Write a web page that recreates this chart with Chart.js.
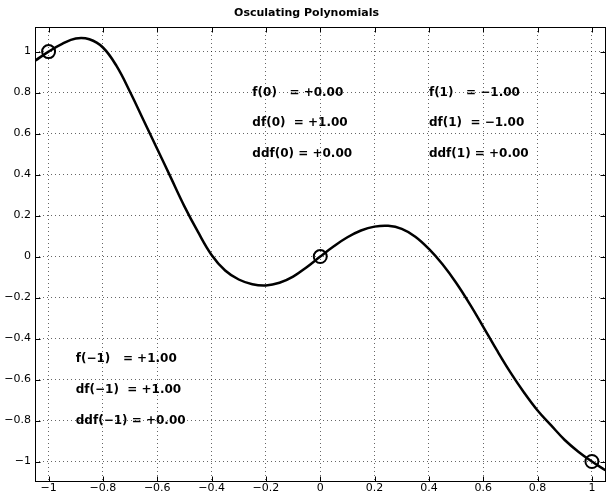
<!DOCTYPE html>
<html>
<head>
    <title>Osculating Polynomials</title>
    <script src="https://cdn.jsdelivr.net/npm/chart.js"></script>
    <style>
        html, body { margin: 0; padding: 0; overflow: hidden; background: #fff; }
        #wrap { width: 614px; height: 500px; }
    </style>
</head>
<body>
    <div id="wrap"><canvas id="polyChart" width="614" height="500"></canvas></div>
<script>
// curve, every 0.05 in x
const xValues = [-1.05, -1.00, -0.95, -0.90, -0.85, -0.80, -0.75, -0.70, -0.65, -0.60,
                 -0.55, -0.50, -0.45, -0.40, -0.35, -0.30, -0.25, -0.20, -0.15, -0.10,
                 -0.05, 0.00, 0.05, 0.10, 0.15, 0.20, 0.25, 0.30, 0.35, 0.40,
                 0.45, 0.50, 0.55, 0.60, 0.65, 0.70, 0.75, 0.80, 0.85, 0.90,
                 0.95, 1.00, 1.05];
const yValues = [0.955, 1.000, 1.038, 1.064, 1.060, 1.020, 0.930, 0.803, 0.664, 0.525,
                 0.385, 0.245, 0.120, 0.008, -0.068, -0.112, -0.135, -0.141, -0.128, -0.098,
                 -0.052, 0.000, 0.050, 0.094, 0.127, 0.146, 0.150, 0.135, 0.097, 0.037,
                 -0.038, -0.128, -0.231, -0.343, -0.457, -0.565, -0.663, -0.751, -0.824, -0.895,
                 -0.952, -1.000, -1.043];

// interpolation nodes (circles)
const nodeX = [-1, 0, 1];
const nodeY = [1, 0, -1];

const xTicks = [-1, -0.8, -0.6, -0.4, -0.2, 0, 0.2, 0.4, 0.6, 0.8, 1];
const yTicks = [-1, -0.8, -0.6, -0.4, -0.2, 0, 0.2, 0.4, 0.6, 0.8, 1];

const titleText = 'Osculating Polynomials';
const noteLeft = ['f(\u22121)   = +1.00', 'df(\u22121)  = +1.00', 'ddf(\u22121) = +0.00'];
const noteMid = ['f(0)   = +0.00', 'df(0)  = +1.00', 'ddf(0) = +0.00'];
const noteRight = ['f(1)   = \u22121.00', 'df(1)  = \u22121.00', 'ddf(1) = +0.00'];

// where the text blocks sit, in data units
const notePlaces = [
    { lines: noteLeft, x: -0.9, y: [-0.5, -0.65, -0.8] },
    { lines: noteMid, x: -0.25, y: [0.8, 0.65, 0.5] },
    { lines: noteRight, x: 0.4, y: [0.8, 0.65, 0.5] }
];

const minus = v => String(v).replace('-', '\u2212');

// box, inward ticks and the text blocks, MATLAB style
const framePlugin = {
    id: 'frame',
    afterDraw(chart) {
        const ctx = chart.ctx;
        const a = chart.chartArea;
        const xs = chart.scales.x, ys = chart.scales.y;
        const L = Math.round(a.left) + 0.5, R = Math.round(a.right) - 0.5;
        const T = Math.round(a.top) + 0.5, B = Math.round(a.bottom) - 0.5;
        ctx.save();
        ctx.strokeStyle = '#000';
        ctx.lineWidth = 1;
        ctx.strokeRect(L, T, R - L, B - T);
        ctx.beginPath();
        xTicks.forEach(v => {
            const px = Math.round(xs.getPixelForValue(v)) + 0.5;
            ctx.moveTo(px, B); ctx.lineTo(px, B - 5);
            ctx.moveTo(px, T); ctx.lineTo(px, T + 5);
        });
        yTicks.forEach(v => {
            const py = Math.round(ys.getPixelForValue(v)) + 0.5;
            ctx.moveTo(L, py); ctx.lineTo(L + 5, py);
            ctx.moveTo(R, py); ctx.lineTo(R - 5, py);
        });
        ctx.stroke();

        ctx.fillStyle = '#000';
        ctx.font = 'bold 12px "DejaVu Sans"';
        ctx.textAlign = 'left';
        ctx.textBaseline = 'middle';
        notePlaces.forEach(n => {
            n.lines.forEach((s, i) => {
                ctx.fillText(s, xs.getPixelForValue(n.x), ys.getPixelForValue(n.y[i]));
            });
        });
        ctx.restore();
    }
};

const ctx = document.getElementById('polyChart').getContext('2d');
const polyChart = new Chart(ctx, {
    type: 'scatter',
    data: {
        datasets: [{
            label: 'p(x)',
            data: xValues.map((x, i) => ({ x: x, y: yValues[i] })),
            showLine: true,
            borderColor: '#000',
            borderWidth: 2.5,
            pointRadius: 0,
            tension: 0.4,
            fill: false
        }, {
            label: 'nodes',
            data: nodeX.map((x, i) => ({ x: x, y: nodeY[i] })),
            showLine: false,
            pointRadius: 6.5,
            pointBorderWidth: 2,
            pointBorderColor: '#000',
            pointBackgroundColor: 'rgba(0,0,0,0)'
        }]
    },
    options: {
        responsive: false,
        animation: false,
        layout: { padding: { left: 0, right: 1, top: 0, bottom: 0 } },
        plugins: {
            legend: { display: false },
            tooltip: { enabled: false },
            title: {
                display: true,
                text: titleText,
                color: '#000',
                font: { family: 'DejaVu Sans', size: 11, weight: 'bold', lineHeight: 1.2 },
                padding: { top: 7, bottom: 6.8 }
            }
        },
        scales: {
            x: {
                type: 'linear',
                min: -1.05,
                max: 1.05,
                afterBuildTicks: s => { s.ticks = xTicks.map(v => ({ value: v })); },
                afterFit: s => { s.height = 18; },
                grid: { color: 'rgba(0,0,0,0.6)', lineWidth: 1, drawTicks: false },
                border: { display: false, dash: [1, 3] },
                ticks: {
                    color: '#000',
                    font: { family: 'DejaVu Sans', size: 11 },
                    padding: 0,
                    maxRotation: 0,
                    autoSkip: false,
                    callback: v => minus(v)
                }
            },
            y: {
                type: 'linear',
                min: -1.1,
                max: 1.12,
                afterBuildTicks: s => { s.ticks = yTicks.map(v => ({ value: v })); },
                afterFit: s => { s.width = 35; },
                grid: { color: 'rgba(0,0,0,0.6)', lineWidth: 1, drawTicks: false },
                border: { display: false, dash: [1, 3] },
                ticks: {
                    color: '#000',
                    font: { family: 'DejaVu Sans', size: 11 },
                    padding: 4,
                    autoSkip: false,
                    callback: v => minus(v)
                }
            }
        }
    },
    plugins: [framePlugin]
});
</script>
</body>
</html>
